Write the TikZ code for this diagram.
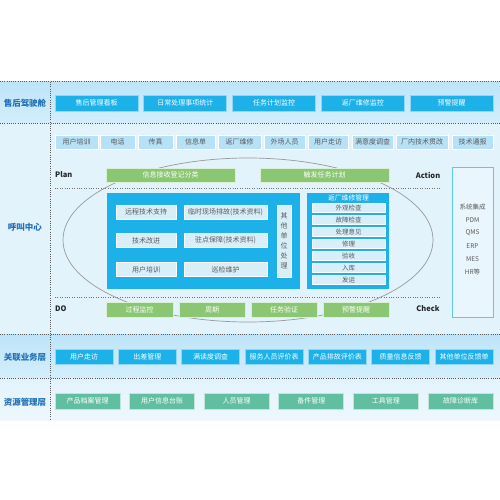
\documentclass[tikz,border=0pt]{standalone}
\usepackage{fontspec}
\setmainfont{Noto Sans CJK SC}
\usetikzlibrary{positioning}

\definecolor{deckbg}{HTML}{BEE4F8}
\definecolor{decklight}{HTML}{D3EEFB}
\definecolor{callbg}{HTML}{E2F3FC}
\definecolor{boxcyan}{HTML}{1CB1E8}
\definecolor{boxedge}{HTML}{8FD8F4}
\definecolor{paleblue}{HTML}{B6E1F6}
\definecolor{innerbox}{HTML}{D8EFFA}
\definecolor{pdcagreen}{HTML}{8BC673}
\definecolor{resteal}{HTML}{62BEA0}
\definecolor{layerblue}{HTML}{1F70B8}
\definecolor{sysedge}{HTML}{5BC8EE}
\definecolor{sysfill}{HTML}{E9F6FD}
\definecolor{greytext}{HTML}{5A5A5A}

\begin{document}
\begin{tikzpicture}[
    x=1pt, y=-1pt,
    every node/.style={font=\fontsize{7}{8}\selectfont, inner sep=0pt},
    sep/.style={draw=black!65, line width=1pt, dash pattern=on 1pt off 1.2pt},
    innersep/.style={draw=black!55, line width=0.9pt, dash pattern=on 1pt off 1.4pt},
    layer/.style={text=layerblue, font=\fontsize{8.5}{9}\selectfont\bfseries},
    deckbox/.style={fill=boxcyan, draw=boxedge, line width=0.8pt, text=white, minimum width=#1, minimum height=16pt},
    channel/.style={fill=paleblue, draw=white, line width=0.6pt, text=greytext, minimum width=#1, minimum height=14pt},
    pdca/.style={fill=pdcagreen, draw=white!70!pdcagreen, line width=0.6pt, text=white, minimum width=#1, minimum height=14pt},
    pdcalabel/.style={font=\fontsize{7.5}{8}\selectfont\bfseries, text=black!85},
    service/.style={fill=innerbox, draw=white, line width=0.8pt, text=greytext, minimum width=#1, minimum height=14pt},
    repair/.style={fill=innerbox, draw=white, line width=0.6pt, text=greytext, minimum width=73pt, minimum height=9.5pt, font=\fontsize{6.5}{7}\selectfont},
    relbox/.style={fill=boxcyan, draw=boxedge, line width=0.8pt, text=white, minimum width=58pt, minimum height=15pt},
    resbox/.style={fill=resteal, draw=white!60!resteal, line width=0.8pt, text=white, minimum width=65pt, minimum height=16pt}
]
\useasboundingbox (0,0) rectangle (500,500);

% === BACKGROUND BANDS ===
\shade[top color=deckbg, bottom color=decklight] (0,82) rectangle (500,123);
\fill[callbg] (0,123) rectangle (500,334);
\shade[top color=deckbg, bottom color=decklight] (0,334) rectangle (500,378);
\shade[top color=callbg, bottom color=callbg!60!white] (0,378) rectangle (500,420);

% === SEPARATORS ===
\draw[sep] (0,82) -- (500,82);
\draw[sep] (0,123) -- (500,123);
\draw[sep] (0,334) -- (500,334);
\draw[sep] (0,378) -- (500,378);
\draw[sep] (50,82) -- (50,420);
\draw[innersep] (55,188) -- (440,188);
\draw[innersep] (55,297) -- (440,297);

% === LAYER LABELS ===
\node[layer] (cockpit) at (25,103) {售后驾驶舱};
\node[layer] (callcenter) at (25,227) {呼叫中心};
\node[layer] (related) at (25,357) {关联业务层};
\node[layer] (resource) at (25,402) {资源管理层};

% === COCKPIT ROW ===
\node[deckbox=83pt] (board) at (96.5,103) {售后管理看板};
\node[deckbox=83pt] (daily) at (185.25,103) {日常处理事项统计};
\node[deckbox=83pt] (taskmon) at (274,103) {任务计划监控};
\node[deckbox=83pt] (returnmon) at (362.75,103) {返厂维修监控};
\node[deckbox=83pt] (alert) at (451.5,103) {预警提醒};

% === CHANNELS ===
\node[channel=43pt] (training) at (76.5,142) {用户培训};
\node[channel=35pt] (phone) at (117.5,142) {电话};
\node[channel=35pt] (fax) at (155.5,142) {传真};
\node[channel=39pt] (infosheet) at (195.5,142) {信息单};
\node[channel=43pt] (factory) at (239.5,142) {返厂维修};
\node[channel=41pt] (field) at (284.5,142) {外场人员};
\node[channel=40pt] (visit) at (328,142) {用户走访};
\node[channel=41pt] (survey) at (372.5,142) {满意度调查};
\node[channel=52pt] (rework) at (422,142) {厂内技术贯改};
\node[channel=41pt] (bulletin) at (472.5,142) {技术通报};

% === PDCA CYCLE ===
\draw[black!40, line width=0.7pt] (248,240) ellipse [x radius=185, y radius=82];

\node[pdcalabel, anchor=west] (plan) at (55,175) {Plan};
\node[pdcalabel] (action) at (428,175) {Action};
\node[pdcalabel, anchor=west] (do) at (55,309) {DO};
\node[pdcalabel] (check) at (428,309) {Check};

\node[pdca=129pt] (register) at (170.5,175) {信息接收登记分类};
\node[pdca=129pt] (trigger) at (324.5,175) {触发任务计划};

\node[pdca=67pt, minimum height=15pt] (process) at (139.5,310) {过程监控};
\node[pdca=66pt, minimum height=15pt] (cycle) at (212,310) {周期};
\node[pdca=66pt, minimum height=15pt] (verify) at (284,310) {任务验证};
\node[pdca=66pt, minimum height=15pt] (warning) at (356,310) {预警提醒};

% === SERVICE PANEL ===
\node[fill=boxcyan, minimum width=193pt, minimum height=96pt] (servpanel) at (203.5,241) {};
\node[service=60pt] (remote) at (146,212) {远程技术支持};
\node[service=83pt] (onsite) at (225.5,212) {临时现场排故(技术资料)};
\node[service=60pt] (improve) at (146,240.5) {技术改进};
\node[service=83pt] (resident) at (225.5,240.5) {驻点保障(技术资料)};
\node[service=60pt] (usertrain) at (146,269.5) {用户培训};
\node[service=83pt] (patrol) at (225.5,269.5) {巡检维护};
\node[service=14pt, minimum height=72pt, align=center, font=\fontsize{7}{10}\selectfont] (otherunit) at (284,241) {其\\他\\单\\位\\处\\理};

% === RETURN REPAIR PANEL ===
\node[fill=boxcyan, minimum width=82pt, minimum height=96pt] (repairpanel) at (348,241) {};
\node[text=white, font=\fontsize{6.8}{7}\selectfont] (repairtitle) at (348.5,198) {返厂维修管理};
\node[repair] (appear) at (348.5,208) {外观检查};
\node[repair] (fault) at (348.5,220) {故障检查};
\node[repair] (opinion) at (348.5,232) {处理意见};
\node[repair] (fix) at (348.5,244) {修理};
\node[repair] (accept) at (348.5,256) {验收};
\node[repair] (store) at (348.5,268) {入库};
\node[repair] (ship) at (348.5,280) {发运};

% === SYSTEM INTEGRATION ===
\node[draw=sysedge, fill=sysfill, line width=1pt, minimum width=41pt, minimum height=150pt] (sysbox) at (472.5,242) {};
\node[text=greytext, font=\fontsize{6.5}{7}\selectfont] (sysint) at (472.5,207) {系统集成};
\node[text=greytext, font=\fontsize{6.5}{7}\selectfont] (pdm) at (472.5,220) {PDM};
\node[text=greytext, font=\fontsize{6.5}{7}\selectfont] (qms) at (472.5,233) {QMS};
\node[text=greytext, font=\fontsize{6.5}{7}\selectfont] (erp) at (472.5,246) {ERP};
\node[text=greytext, font=\fontsize{6.5}{7}\selectfont] (mes) at (472.5,259) {MES};
\node[text=greytext, font=\fontsize{6.5}{7}\selectfont] (hr) at (472.5,272) {HR等};

% === RELATED BUSINESS ROW ===
\node[relbox] (relvisit) at (84,356.5) {用户走访};
\node[relbox] (trip) at (147.33,356.5) {出差管理};
\node[relbox] (relsurvey) at (210.67,356.5) {满读度调查};
\node[relbox] (staffeval) at (274,356.5) {服务人员评价表};
\node[relbox] (prodeval) at (337.33,356.5) {产品排故评价表};
\node[relbox] (quality) at (400.67,356.5) {质量信息反馈};
\node[relbox] (feedback) at (464,356.5) {其他单位反馈单};

% === RESOURCE ROW ===
\node[resbox] (archive) at (87.5,401) {产品档案管理};
\node[resbox] (ledger) at (162.1,401) {用户信息台账};
\node[resbox] (staff) at (236.7,401) {人员管理};
\node[resbox] (spares) at (311.3,401) {备件管理};
\node[resbox] (tools) at (385.9,401) {工具管理};
\node[resbox] (diagnose) at (460.5,401) {故障诊断库};

\end{tikzpicture}
\end{document}
